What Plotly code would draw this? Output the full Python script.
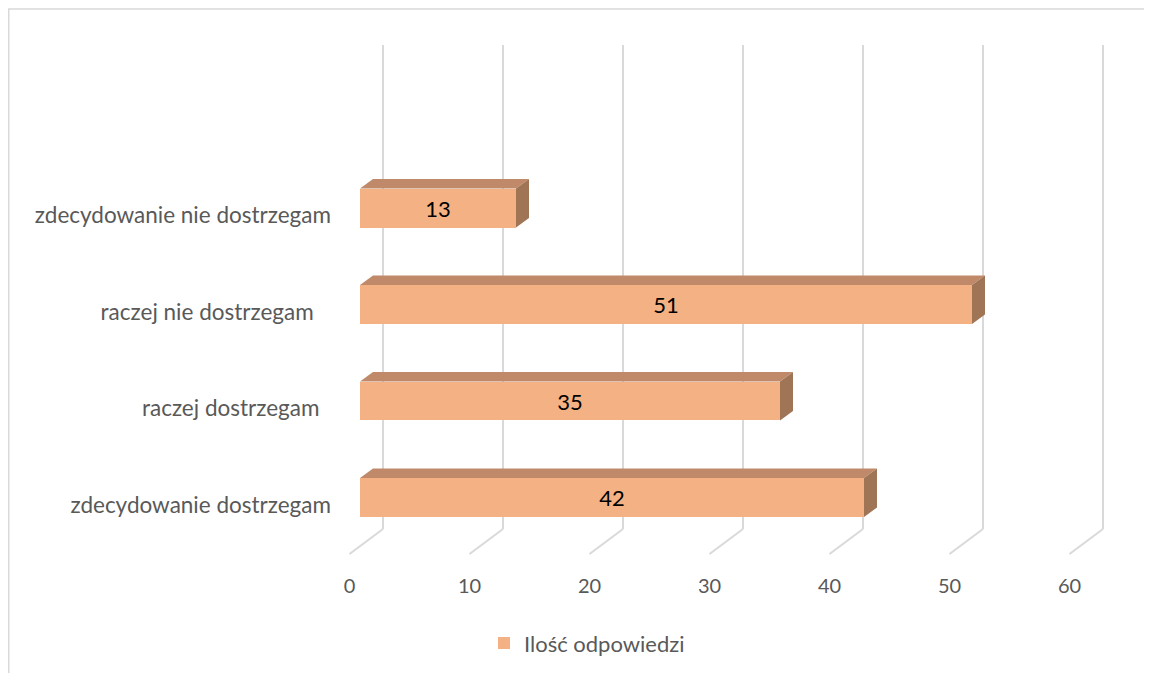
import plotly.graph_objects as go

categories = ["zdecydowanie dostrzegam", "raczej dostrzegam\u00a0\u00a0", "raczej nie dostrzegam\u00a0\u00a0\u00a0", "zdecydowanie nie dostrzegam"]
values = [42, 35, 51, 13]
series_name = "Ilość odpowiedzi"
x_ticks = [0, 10, 20, 30, 40, 50, 60]

FRONT = "#F4B183"
TOP = "#C08A6A"
SIDE = "#A07556"
GRID = "#D9D9D9"
TXT = "#595959"
FONT = "Lato"

# geometry (data units): category index spacing 1, bar height, 3D depth offsets
H = 0.404
DX, DY = 1.083, 0.0984
BACK_DX = 23 / 12.0
GRID_TOP, GRID_BOT = 4.689, -0.326
FLOOR_DX, FLOOR_Y = -0.875, -0.585

ypos = list(range(len(categories)))

fig = go.Figure()

fig.add_trace(go.Bar(
    x=values, y=ypos, orientation="h", width=H, base=0,
    marker=dict(color=FRONT, line=dict(width=0)),
    name=series_name, text=[str(v) for v in values], textposition="inside",
    insidetextanchor="middle", textfont=dict(color="#000000", size=22, family=FONT),
    showlegend=True,
))

for v, y in zip(values, ypos):
    top = y + H / 2
    bot = y - H / 2
    fig.add_trace(go.Scatter(
        x=[0, v, v + DX, DX, 0], y=[top, top, top + DY, top + DY, top],
        fill="toself", fillcolor=TOP, mode="lines", line=dict(width=0, color=TOP),
        showlegend=False, hoverinfo="skip"))
    fig.add_trace(go.Scatter(
        x=[v, v + DX, v + DX, v, v], y=[bot, bot + DY, top + DY, top, bot],
        fill="toself", fillcolor=SIDE, mode="lines", line=dict(width=0, color=SIDE),
        showlegend=False, hoverinfo="skip"))

shapes = []
for t in x_ticks:
    shapes.append(dict(type="line", xref="x", yref="y", layer="below",
                       x0=t + BACK_DX, x1=t + BACK_DX, y0=GRID_BOT, y1=GRID_TOP,
                       line=dict(color=GRID, width=2)))
    shapes.append(dict(type="line", xref="x", yref="y", layer="below",
                       x0=t + BACK_DX, x1=t + FLOOR_DX, y0=GRID_BOT, y1=FLOOR_Y,
                       line=dict(color=GRID, width=2)))
# chart border
shapes.append(dict(type="rect", xref="paper", yref="paper", layer="below",
                   x0=-0.4302, x1=1.2, y0=-0.3, y1=1.0596,
                   line=dict(color=GRID, width=1.5), fillcolor="rgba(0,0,0,0)"))

fig.update_layout(
    width=1152, height=673,
    margin=dict(l=332, r=50, t=32, b=121),
    paper_bgcolor="white", plot_bgcolor="white",
    shapes=shapes,
    bargap=0,
    xaxis=dict(range=[-20 / 12.0, 62.5], showgrid=False, zeroline=False, showline=False,
               tickvals=[t + FLOOR_DX for t in x_ticks], ticktext=[str(t) for t in x_ticks],
               tickfont=dict(size=20, color=TXT, family=FONT), ticks="", ticklabelstandoff=12),
    yaxis=dict(range=[-0.6477, 4.741], showgrid=False, zeroline=False, showline=False,
               tickvals=[y - 7.5 / 96.5 for y in ypos], ticktext=categories,
               tickfont=dict(size=22.5, color=TXT, family=FONT), ticks="", ticklabelstandoff=8),
    legend=dict(orientation="h", x=0.187, xanchor="left", y=-0.16, yanchor="middle",
                font=dict(size=22, color=TXT, family=FONT), itemwidth=30),
    showlegend=True,
)

fig.write_html("out.html")
